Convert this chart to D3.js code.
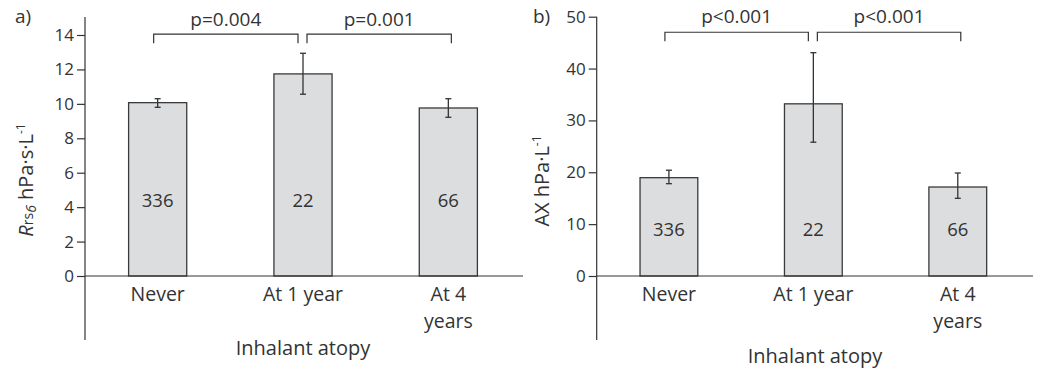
<!DOCTYPE html>
<html>
<head>
<meta charset="utf-8">
<script src="https://cdn.jsdelivr.net/npm/d3@7"></script>
<style>
  body { margin: 0; background: #fff; }
  svg text { font-family: "Open Sans", "Noto Sans", sans-serif; fill: #333; }
</style>
</head>
<body>
<div id="chart"></div>
<script>
// data
const categories = ["Never", "At 1 year", "At 4 years"];
const categoryLines = [["Never"], ["At 1 year"], ["At 4", "years"]];
const counts = [336, 22, 66];

const rrsMean = [10.07, 11.74, 9.76];
const rrsLow = [9.8, 10.56, 9.22];
const rrsHigh = [10.3, 12.94, 10.3];
const rrsTicks = [0, 2, 4, 6, 8, 10, 12, 14];
const rrsPValues = ["p=0.004", "p=0.001"];

const axMean = [18.96, 33.2, 17.16];
const axLow = [17.8, 25.8, 14.98];
const axHigh = [20.4, 43.06, 19.86];
const axTicks = [0, 10, 20, 30, 40, 50];
const axPValues = ["p<0.001", "p<0.001"];

const W = 1040, H = 371;
const svg = d3.select("#chart").append("svg")
  .attr("width", W)
  .attr("height", H);

function drawPanel(p) {
  const g = svg.append("g");

  const x = d3.scaleBand()
    .domain(categories)
    .range([p.left, p.right])
    .paddingInner(0.6)
    .paddingOuter(0.3);

  const y = d3.scaleLinear()
    .domain(p.domain)
    .range([p.bottom, p.top]);

  const rows = categories.map((c, i) => ({
    cat: c, mean: p.mean[i], lo: p.low[i], hi: p.high[i], n: counts[i], lines: categoryLines[i]
  }));

  // bars
  g.selectAll("rect.bar")
    .data(rows)
    .enter().append("rect")
    .attr("class", "bar")
    .attr("x", d => x(d.cat))
    .attr("y", d => y(d.mean))
    .attr("width", x.bandwidth())
    .attr("height", d => y(0) - y(d.mean))
    .attr("fill", "#dcdddf")
    .attr("stroke", "#3a3a3a")
    .attr("stroke-width", 1.3);

  // error bars
  const cx = d => x(d.cat) + x.bandwidth() / 2;
  const eb = g.selectAll("g.err").data(rows).enter().append("g")
    .attr("stroke", "#333")
    .attr("stroke-width", 1.3);
  eb.append("line")
    .attr("x1", cx).attr("x2", cx)
    .attr("y1", d => y(d.lo)).attr("y2", d => y(d.hi));
  eb.append("line")
    .attr("x1", d => cx(d) - 3).attr("x2", d => cx(d) + 3)
    .attr("y1", d => y(d.hi)).attr("y2", d => y(d.hi));
  eb.append("line")
    .attr("x1", d => cx(d) - 3).attr("x2", d => cx(d) + 3)
    .attr("y1", d => y(d.lo)).attr("y2", d => y(d.lo));

  // n inside bars
  g.selectAll("text.n")
    .data(rows)
    .enter().append("text")
    .attr("class", "n")
    .attr("x", cx)
    .attr("y", y(p.countAt))
    .attr("text-anchor", "middle")
    .attr("font-size", 18.5)
    .text(d => d.n);

  // y axis
  const yAxis = d3.axisLeft(y)
    .tickValues(p.ticks)
    .tickSize(8)
    .tickPadding(3);
  const ya = g.append("g")
    .attr("transform", `translate(${p.left},0)`)
    .call(yAxis);
  ya.select(".domain").remove();
  ya.selectAll(".tick line").attr("stroke", "#333").attr("stroke-width", 1.2);
  ya.selectAll(".tick text")
    .attr("font-size", 17)
    .attr("font-family", "'Open Sans', sans-serif")
    .attr("fill", "#333");

  // axis lines
  g.append("line")
    .attr("x1", p.left).attr("x2", p.left)
    .attr("y1", p.axisTop).attr("y2", 340)
    .attr("stroke", "#333").attr("stroke-width", 1.2);
  g.append("line")
    .attr("x1", p.left).attr("x2", p.baseEnd)
    .attr("y1", y(0)).attr("y2", y(0))
    .attr("stroke", "#333").attr("stroke-width", 1.2);

  // category labels, one text per line
  const lines = [];
  rows.forEach(d => d.lines.forEach((l, i) => lines.push({ l, i, x: cx(d) })));
  g.selectAll("text.cat")
    .data(lines)
    .enter().append("text")
    .attr("class", "cat")
    .attr("x", d => d.x)
    .attr("y", d => 301 + d.i * 26.8)
    .attr("text-anchor", "middle")
    .attr("font-size", 19.5)
    .text(d => d.l);

  // x title
  g.append("text")
    .attr("x", p.titleX)
    .attr("y", p.titleY)
    .attr("text-anchor", "middle")
    .attr("font-size", 20)
    .text("Inhalant atopy");

  // significance brackets
  const pairs = [[0, 1], [1, 2]];
  const by = y(p.bracketAt);
  pairs.forEach((pr, k) => {
    const x1 = cx(rows[pr[0]]) + (k === 0 ? -4 : 4);
    const x2 = cx(rows[pr[1]]) + (k === 0 ? -5 : 3);
    g.append("path")
      .attr("d", `M${x1},${by + 9}V${by}H${x2}V${by + 9}`)
      .attr("fill", "none")
      .attr("stroke", "#333")
      .attr("stroke-width", 1.2);
    g.append("text")
      .attr("x", (x1 + x2) / 2)
      .attr("y", by - p.pGap)
      .attr("text-anchor", "middle")
      .attr("font-size", 19)
      .text(p.pValues[k]);
  });

  // panel letter
  g.append("text")
    .attr("x", p.letterX)
    .attr("y", 23)
    .attr("font-size", 19)
    .text(p.letter);

  // y title
  const yt = g.append("text")
    .attr("transform", `translate(${p.yTitleX},${p.yTitleY}) rotate(-90)`)
    .attr("text-anchor", "middle")
    .attr("font-size", 20);
  p.yTitle(yt);
}

drawPanel({
  left: 85, right: 521, top: 35, bottom: 276, axisTop: 17, baseEnd: 523,
  domain: [0, 14], ticks: rrsTicks,
  mean: rrsMean, low: rrsLow, high: rrsHigh,
  countAt: 4.0, bracketAt: 14.05, pGap: 8, pValues: rrsPValues,
  titleX: 303, titleY: 355, letter: "a)", letterX: 15,
  yTitleX: 33, yTitleY: 180,
  yTitle: t => {
    t.append("tspan").attr("font-style", "italic").text("R");
    t.append("tspan").attr("font-size", 14).text("rs");
    t.append("tspan").attr("font-size", 14).attr("font-style", "italic").attr("dy", 3).text("6");
    t.append("tspan").attr("dy", -3).text(" hPa·s·L");
    t.append("tspan").attr("font-size", 12).attr("dy", -8).text("-1");
  }
});

drawPanel({
  left: 596.7, right: 1030, top: 16.7, bottom: 276, axisTop: 16.7, baseEnd: 1033,
  domain: [0, 50], ticks: axTicks,
  mean: axMean, low: axLow, high: axHigh,
  countAt: 7.8, bracketAt: 47, pGap: 9, pValues: axPValues,
  titleX: 815, titleY: 363, letter: "b)", letterX: 533,
  yTitleX: 549, yTitleY: 181,
  yTitle: t => {
    t.append("tspan").text("AX hPa·L");
    t.append("tspan").attr("font-size", 12).attr("dy", -8).text("-1");
  }
});
</script>
</body>
</html>
